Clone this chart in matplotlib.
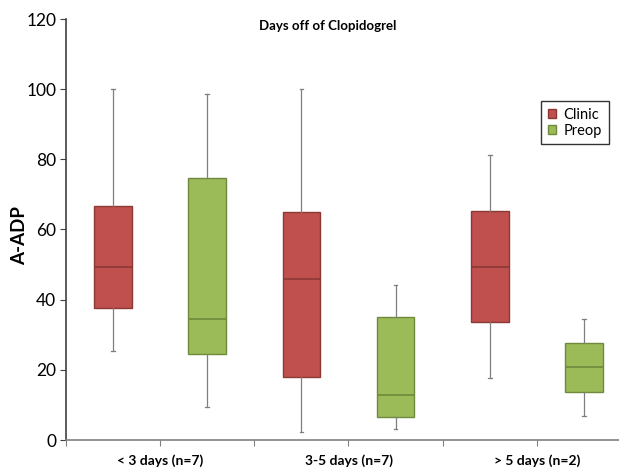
import matplotlib
matplotlib.use("Agg")
import matplotlib.pyplot as plt
from matplotlib.patches import Patch

plt.rcParams['font.family'] = ['Lato', 'DejaVu Sans']

groups = ["< 3 days (n=7)", "3-5 days (n=7)", "> 5 days (n=2)"]
series = ["Clinic", "Preop"]
colors = {"Clinic": "#C0504D", "Preop": "#9BBB59"}
edges = {"Clinic": "#8C3836", "Preop": "#6F8A3C"}

# per group: [whislo, q1, med, q3, whishi]
clinic = [[25.3, 37.6, 49.2, 66.8, 100.0],
          [2.4, 17.9, 45.9, 65.0, 100.0],
          [17.7, 33.5, 49.2, 65.4, 81.2]]
preop = [[9.5, 24.6, 34.4, 74.8, 98.5],
         [3.1, 6.6, 12.7, 35.1, 44.1],
         [6.9, 13.8, 20.7, 27.6, 34.4]]

fig = plt.figure(figsize=(6.19, 4.69), dpi=100)
ax = fig.add_axes([66/619, 29/469, 565/619, 421/469])

data = {"Clinic": clinic, "Preop": preop}
for si, s in enumerate(series):
    stats = []
    for g in data[s]:
        stats.append(dict(whislo=g[0], q1=g[1], med=g[2], q3=g[3], whishi=g[4], fliers=[]))
    positions = [gi * 2 + si for gi in range(len(groups))]
    ax.bxp(stats, positions=positions, widths=0.4, patch_artist=True, showfliers=False,
           capwidths=0.04,
           boxprops=dict(facecolor=colors[s], edgecolor=edges[s], linewidth=1.0),
           medianprops=dict(color=edges[s], linewidth=1.2),
           whiskerprops=dict(color="#7F7F7F", linewidth=0.9),
           capprops=dict(color="#7F7F7F", linewidth=0.9))

ax.set_xlim(-0.5, 5.5)
ax.set_ylim(0, 120)
ax.set_yticks(range(0, 121, 20))
ax.tick_params(axis='y', labelsize=12.5, length=4, direction='out', color='#404040', pad=3)
ax.set_xticks([-0.5 + i for i in range(7)])
ax.set_xticklabels([])
ax.tick_params(axis='x', length=4, direction='out', color='#808080')

# group labels under the axis
for gi, g in enumerate(groups):
    xf = (66 + (gi * 2 + 1) * 565 / 6) / 619
    fig.text(xf, 1 - 461/469, g, ha='center', va='center', fontsize=10, fontweight='bold')

for sp in ['top', 'right']:
    ax.spines[sp].set_visible(False)
ax.spines['left'].set_color('#404040')
ax.spines['left'].set_linewidth(1.2)
ax.spines['bottom'].set_color('#808080')
ax.spines['bottom'].set_linewidth(1.2)

fig.text(20/619, 1 - 236/469, "A-ADP", rotation=90, ha='center', va='center',
         fontsize=13.5, fontweight='bold')
fig.text(328/619, 1 - 26/469, "Days off of Clopidogrel", ha='center', va='center',
         fontsize=9.5, fontweight='bold')

handles = [Patch(facecolor=colors[s], edgecolor=edges[s], label=s) for s in series]
leg = ax.legend(handles=handles, loc='upper left', bbox_to_anchor=(541/619, 1 - 101/469),
                bbox_transform=fig.transFigure, fontsize=10.5, frameon=True, fancybox=False,
                handlelength=0.6, handleheight=0.6, handletextpad=0.5, borderpad=0.45,
                labelspacing=0.15, borderaxespad=0)
leg.get_frame().set_edgecolor('black')
leg.get_frame().set_linewidth(1.0)

fig.savefig("out.png", dpi=100)
